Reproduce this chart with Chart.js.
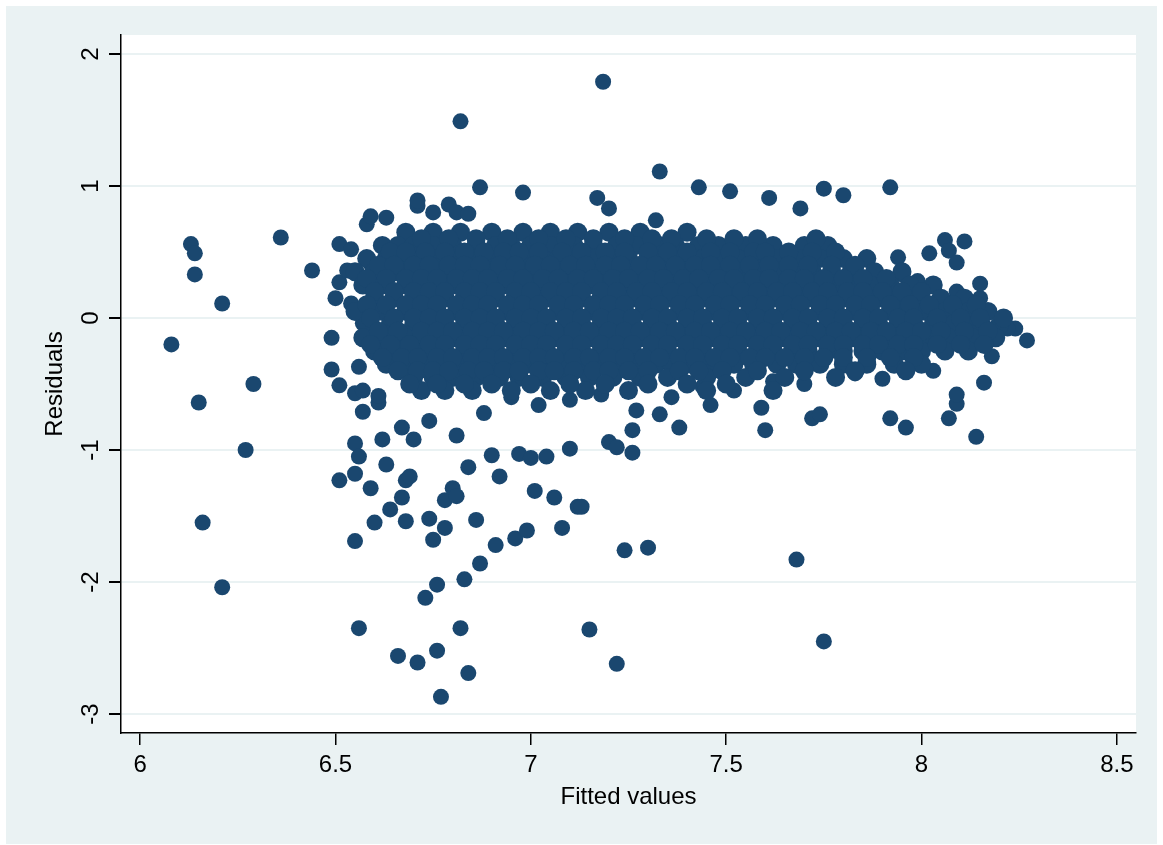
<!DOCTYPE html>
<html><head><meta charset="utf-8">
<script src="https://cdn.jsdelivr.net/npm/chart.js@4"></script>
<style>html,body{margin:0;padding:0;background:#fff}</style>
</head><body>
<canvas id="c" width="1163" height="845"></canvas>
<script>
const xTicks = [6, 6.5, 7, 7.5, 8, 8.5];
const yTicks = [-3, -2, -1, 0, 1, 2];
const xTitle = 'Fitted values';
const yTitle = 'Residuals';

// scattered outliers (fitted, residual)
const outlierFitted = [7.185,6.82,7.33,6.87,6.98,7.43,7.51,7.61,7.75,7.80,7.92,7.17,7.20,7.32,7.69,6.36,6.44,
 6.13,6.14,6.14,6.21,6.08,6.15,6.29,6.27,6.16,6.21,
 6.55,6.56,6.51,6.55,6.55,6.59,6.63,6.62,6.64,6.60,6.67,6.68,6.68,6.69,6.74,6.75,6.78,6.78,6.80,6.81,6.84,6.86,
 6.76,6.73,6.83,6.87,6.91,6.96,6.99,7.01,7.06,7.08,7.12,7.13,7.24,7.30,7.68,6.56,6.82,7.15,7.22,7.75,6.66,6.71,6.76,6.84,6.77,
 6.92,6.90,6.97,7.00,7.04,7.10,7.20,7.22,7.26,7.26,7.33,7.38,7.60,7.46,7.59,7.72,7.74,7.92,7.96,8.07,8.14,8.09,8.09,8.16,8.18,8.27,8.24,8.22,8.15,8.15,8.11,8.06,8.02,8.07,8.09,8.09,8.16,7.99,7.95,7.94,
 6.50,6.51,6.51,6.54,6.53,6.49,6.49,6.51,6.55,6.56,6.57,6.61,6.57,6.61,6.69,6.57,6.54,6.59,6.63,6.58,6.59,6.63,6.71,6.71,6.75,6.79,6.81,6.84,
 6.67,6.70,6.81,6.74,6.88,6.95,7.02,7.10,7.18,7.27,7.36,7.44,7.52,7.62,7.70,7.83,7.90,8.03];
const outlierResid = [1.79,1.49,1.11,0.99,0.95,0.99,0.96,0.91,0.98,0.93,0.99,0.91,0.83,0.74,0.83,0.61,0.36,
 0.56,0.49,0.33,0.11,-0.20,-0.64,-0.50,-1.00,-1.55,-2.04,
 -0.95,-1.05,-1.23,-1.18,-1.69,-1.29,-1.11,-0.92,-1.45,-1.55,-1.36,-1.54,-1.23,-1.20,-1.52,-1.68,-1.59,-1.38,-1.29,-1.35,-1.13,-1.53,
 -2.02,-2.12,-1.98,-1.86,-1.72,-1.67,-1.61,-1.31,-1.36,-1.59,-1.43,-1.43,-1.76,-1.74,-1.83,-2.35,-2.35,-2.36,-2.62,-2.45,-2.56,-2.61,-2.52,-2.69,-2.87,
 -1.20,-1.04,-1.03,-1.06,-1.05,-0.99,-0.94,-0.98,-1.02,-0.85,-0.73,-0.83,-0.85,-0.66,-0.68,-0.76,-0.73,-0.76,-0.83,-0.76,-0.90,-0.65,-0.58,-0.49,-0.29,-0.17,-0.08,-0.08,0.15,0.26,0.58,0.59,0.49,0.51,0.42,0.20,-0.06,0.28,0.33,0.46,
 0.15,0.27,0.56,0.52,0.36,-0.15,-0.39,-0.51,-0.57,-0.37,-0.55,-0.64,-0.71,-0.59,0.04,-0.04,0.11,0.41,0.39,0.71,0.77,0.76,0.85,0.89,0.80,0.86,0.80,0.79,
 -0.83,-0.92,-0.89,-0.78,-0.72,-0.60,-0.66,-0.62,-0.58,-0.70,-0.60,-0.52,-0.55,-0.48,-0.50,-0.42,-0.46,-0.40];

// dense core of the cloud, read row by row (residual level, fitted values along it)
const coreResid = [0.65, 0.55, 0.45, 0.35, 0.25, 0.15, 0.05, -0.05, -0.15, -0.25, -0.35, -0.45, -0.55];
const coreFitted = [
 [6.68,6.75,6.82,6.90,6.98,7.05,7.12,7.20,7.28,7.40],
 [6.62,6.66,6.70,6.75,6.80,6.86,6.91,6.95,7.00,7.05,7.11,7.16,7.22,7.27,7.33,7.37,7.43,7.48,7.55,7.62,7.70,7.76],
 [6.58,6.63,6.68,6.72,6.76,6.81,6.85,6.89,6.94,6.98,7.03,7.07,7.12,7.16,7.21,7.25,7.30,7.34,7.39,7.44,7.48,7.53,7.58,7.63,7.69,7.74,7.80,7.86],
 [6.55,6.60,6.66,6.70,6.74,6.78,6.83,6.87,6.91,6.96,7.00,7.05,7.09,7.14,7.18,7.23,7.27,7.32,7.36,7.41,7.45,7.50,7.54,7.59,7.63,7.68,7.72,7.77,7.82,7.88,7.95],
 [6.57,6.62,6.68,6.72,6.76,6.80,6.85,6.89,6.93,6.98,7.02,7.07,7.11,7.15,7.20,7.24,7.29,7.33,7.38,7.42,7.47,7.51,7.56,7.60,7.65,7.69,7.74,7.78,7.83,7.87,7.92,7.97,8.03],
 [6.60,6.65,6.70,6.74,6.78,6.83,6.87,6.91,6.96,7.00,7.04,7.09,7.13,7.18,7.22,7.26,7.31,7.35,7.40,7.44,7.49,7.53,7.58,7.62,7.67,7.71,7.76,7.80,7.85,7.89,7.94,7.99,8.05,8.11],
 [6.55,6.62,6.68,6.72,6.76,6.81,6.85,6.89,6.94,6.98,7.02,7.07,7.11,7.16,7.20,7.24,7.29,7.33,7.38,7.42,7.47,7.51,7.56,7.60,7.65,7.69,7.74,7.78,7.83,7.87,7.92,7.96,8.01,8.06,8.12,8.17],
 [6.58,6.64,6.70,6.74,6.78,6.83,6.87,6.91,6.96,7.00,7.04,7.09,7.13,7.18,7.22,7.26,7.31,7.35,7.40,7.44,7.49,7.53,7.58,7.62,7.67,7.71,7.76,7.80,7.85,7.89,7.94,7.98,8.03,8.08,8.14,8.20],
 [6.57,6.62,6.68,6.72,6.76,6.81,6.85,6.89,6.94,6.98,7.02,7.07,7.11,7.16,7.20,7.24,7.29,7.33,7.38,7.42,7.47,7.51,7.56,7.60,7.65,7.69,7.74,7.78,7.83,7.87,7.92,7.96,8.01,8.07,8.13,8.19],
 [6.60,6.66,6.70,6.74,6.78,6.83,6.87,6.91,6.96,7.00,7.04,7.09,7.13,7.18,7.22,7.26,7.31,7.35,7.40,7.44,7.49,7.53,7.58,7.62,7.67,7.71,7.76,7.80,7.85,7.90,7.95,8.00,8.06,8.12],
 [6.63,6.68,6.72,6.77,6.82,6.86,6.90,6.95,6.99,7.04,7.08,7.13,7.17,7.22,7.27,7.32,7.36,7.41,7.46,7.52,7.57,7.63,7.68,7.74,7.80,7.86,7.93,8.00],
 [6.70,6.75,6.80,6.86,6.92,6.97,7.03,7.09,7.15,7.21,7.28,7.35,7.45,7.55,7.65,7.78],
 [6.72,6.78,6.85,6.95,7.05,7.14,7.25,7.45,7.62]
];
// in-between rows of the dense core
const fillResid = [0.60, 0.50, 0.40, 0.30, 0.20, 0.10, 0.00, -0.10, -0.20, -0.30, -0.40, -0.50];
const fillFitted = [
 [6.72,6.79,6.86,6.94,7.02,7.09,7.16,7.24,7.31,7.36,7.45,7.52,7.58,7.73],
 [6.64,6.68,6.73,6.78,6.83,6.88,6.93,6.97,7.02,7.08,7.13,7.19,7.24,7.30,7.35,7.40,7.46,7.51,7.57,7.60,7.66,7.72,7.78],
 [6.61,6.65,6.70,6.74,6.79,6.83,6.87,6.92,6.96,7.01,7.05,7.10,7.14,7.19,7.23,7.28,7.32,7.37,7.42,7.46,7.51,7.56,7.61,7.66,7.71,7.77,7.83],
 [6.58,6.63,6.68,6.72,6.76,6.81,6.85,6.89,6.94,6.98,7.03,7.07,7.12,7.16,7.21,7.25,7.30,7.34,7.39,7.43,7.48,7.52,7.57,7.61,7.66,7.70,7.75,7.80,7.85,7.91],
 [6.60,6.65,6.70,6.74,6.78,6.83,6.87,6.91,6.96,7.00,7.05,7.09,7.13,7.18,7.22,7.27,7.31,7.36,7.40,7.45,7.49,7.54,7.58,7.63,7.67,7.72,7.76,7.81,7.85,7.90,7.95,8.00],
 [6.58,6.63,6.68,6.72,6.76,6.81,6.85,6.89,6.94,6.98,7.02,7.07,7.11,7.16,7.20,7.24,7.29,7.33,7.38,7.42,7.47,7.51,7.56,7.60,7.65,7.69,7.74,7.78,7.83,7.87,7.92,7.97,8.02,8.08,8.14],
 [6.59,6.65,6.70,6.74,6.78,6.83,6.87,6.91,6.96,7.00,7.04,7.09,7.13,7.18,7.22,7.26,7.31,7.35,7.40,7.44,7.49,7.53,7.58,7.62,7.67,7.71,7.76,7.80,7.85,7.89,7.94,7.98,8.04,8.10,8.15,8.21],
 [6.61,6.66,6.72,6.76,6.80,6.85,6.89,6.93,6.98,7.02,7.06,7.11,7.15,7.20,7.24,7.28,7.33,7.37,7.42,7.46,7.51,7.55,7.60,7.64,7.69,7.73,7.78,7.82,7.87,7.91,7.96,8.00,8.05,8.11,8.17],
 [6.59,6.64,6.69,6.74,6.78,6.83,6.87,6.91,6.96,7.00,7.04,7.09,7.13,7.18,7.22,7.26,7.31,7.35,7.40,7.44,7.49,7.53,7.58,7.62,7.67,7.71,7.76,7.80,7.85,7.89,7.94,7.98,8.04,8.10,8.16],
 [6.62,6.67,6.71,6.76,6.80,6.85,6.89,6.93,6.98,7.02,7.06,7.11,7.15,7.20,7.24,7.29,7.33,7.38,7.42,7.47,7.51,7.56,7.60,7.65,7.70,7.75,7.80,7.86,7.92,7.98],
 [6.66,6.71,6.75,6.79,6.84,6.88,6.93,6.97,7.02,7.06,7.11,7.16,7.20,7.25,7.30,7.38,7.43,7.49,7.58,7.70,7.83,7.96],
 [6.69,6.76,6.83,6.90,7.00,7.10,7.19,7.30,7.40,7.50]
];

const outlierPts = outlierFitted.map((x,i)=>({x, y: outlierResid[i]}));
const corePts = [];
coreResid.forEach((r,i)=>coreFitted[i].forEach(x=>corePts.push({x, y:r})));
fillResid.forEach((r,i)=>fillFitted[i].forEach(x=>corePts.push({x, y:r})));

const LIGHT = '#eaf2f3';
const MARK = '#1a476f';
const font = "'Liberation Sans', Arial, sans-serif";

const bgPlugin = {
  id:'bg',
  beforeDraw(chart){
    const c = chart.ctx, a = chart.chartArea;
    c.save();
    c.fillStyle='#fff'; c.fillRect(0,0,chart.width,chart.height);
    c.fillStyle=LIGHT; c.fillRect(6,6,chart.width-12,chart.height-7);
    c.fillStyle='#fff'; c.fillRect(a.left,a.top,a.right-a.left,a.bottom-a.top);
    c.restore();
  },
  afterDraw(chart){
    const c = chart.ctx, ys = chart.scales.y, a = chart.chartArea;
    c.save();
    c.fillStyle='#000';
    c.font = '24px '+font;
    c.textAlign='center'; c.textBaseline='middle';
    yTicks.forEach(v=>{
      const py = ys.getPixelForValue(v);
      c.save(); c.translate(91, py); c.rotate(-Math.PI/2); c.fillText(String(v),0,0); c.restore();
    });
    c.save(); c.translate(55,(a.top+a.bottom)/2); c.rotate(-Math.PI/2); c.fillText(yTitle,0,0); c.restore();
    c.fillText(xTitle,(a.left+a.right)/2,797);
    c.restore();
  }
};

new Chart(document.getElementById('c'), {
  type:'scatter',
  data:{datasets:[
    {data:corePts, backgroundColor:MARK, borderWidth:0, pointRadius:9.5, pointHoverRadius:9.5},
    {data:outlierPts, backgroundColor:MARK, borderWidth:0, pointRadius:8, pointHoverRadius:8}
  ]},
  options:{
    responsive:false, animation:false, devicePixelRatio:1,
    layout:{padding:{left:0, top:35, right:27, bottom:0}},
    plugins:{legend:{display:false}, tooltip:{enabled:false}},
    scales:{
      x:{type:'linear', min:5.951, max:8.549,
        afterBuildTicks(s){ s.ticks = xTicks.map(v=>({value:v})); },
        afterFit(s){ s.height = 112; },
        border:{color:'#000', width:1.5},
        grid:{drawOnChartArea:false, color:'#000', tickColor:'#000', tickLength:12, lineWidth:1.5},
        ticks:{color:'#000', font:{family:font, size:24}, padding:6, maxRotation:0, callback:v=>String(v)},
        title:{display:false}
      },
      y:{type:'linear', min:-3.144, max:2.144,
        afterBuildTicks(s){ s.ticks = yTicks.map(v=>({value:v})); },
        afterFit(s){ s.width = 121; },
        border:{color:'#000', width:1.5},
        grid:{color:LIGHT, tickColor:'#000', tickLength:12, lineWidth:2},
        ticks:{display:false}
      }
    }
  },
  plugins:[bgPlugin]
});
</script>
</body></html>
